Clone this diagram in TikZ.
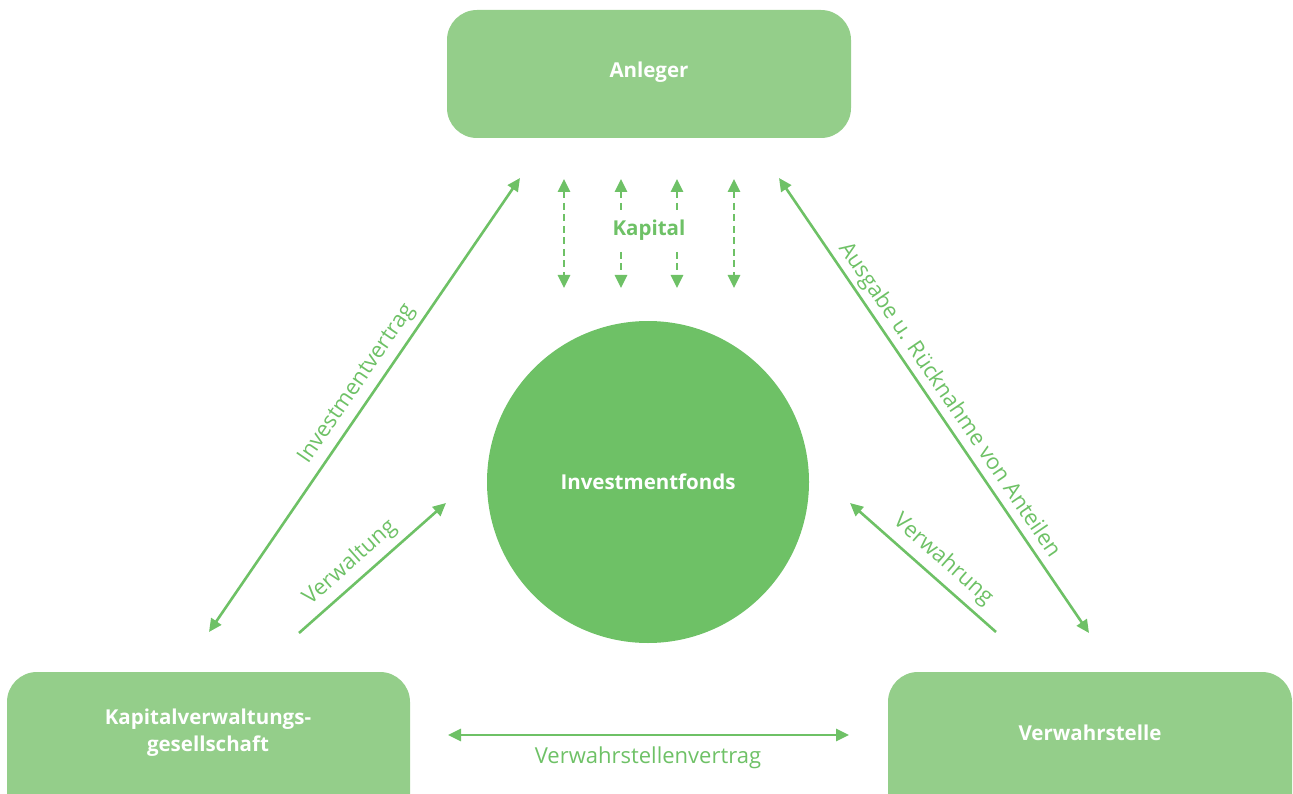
\documentclass[tikz,border=0pt]{standalone}
\usepackage{fontspec}
\setmainfont{Open Sans}
\usetikzlibrary{arrows.meta}
\definecolor{boxg}{HTML}{94CE8A}
\definecolor{circg}{HTML}{6EC166}
\definecolor{lineg}{HTML}{6EC166}
\tikzset{
  boldtxt/.style={text=white, font=\bfseries\fontsize{20.5}{27}\selectfont, align=center},
  conn/.style={draw=lineg, line width=2.6pt},
  tip/.style={-{Triangle[length=13pt,width=12pt]}},
  tips/.style={{Triangle[length=13pt,width=12pt]}-{Triangle[length=13pt,width=12pt]}},
  dashconn/.style={conn, line width=2.8pt, dash pattern=on 7pt off 4.5pt},
  lbl/.style={text=lineg, font=\fontsize{22}{26}\selectfont, inner sep=0pt},
}
\begin{document}
\begin{tikzpicture}[x=1pt,y=-1pt]
\useasboundingbox (0,0) rectangle (1293,794);
% boxes
\path[fill=boxg, rounded corners=30pt] (447,10) rectangle (851,138);
\node[boldtxt] (anleger) at (649,72) {Anleger};
\path[fill=boxg, rounded corners=30pt] (7,672) rectangle (410,830);
\node[boldtxt] (kvg) at (208,733) {Kapitalverwaltungs-\\gesellschaft};
\path[fill=boxg, rounded corners=30pt] (888,672) rectangle (1292,830);
\node[boldtxt] (vs) at (1090,733) {Verwahrstelle};
% circle
\node[circle, fill=circg, minimum size=322pt, inner sep=0pt, boldtxt] (fonds) at (648,482) {Investmentfonds};
% coordinates
\coordinate (iv1) at (209,632); \coordinate (iv2) at (520,178);
\coordinate (au1) at (779,178); \coordinate (au2) at (1089,633);
\coordinate (vw1) at (299,633); \coordinate (vw2) at (446,503);
\coordinate (vh1) at (996,632); \coordinate (vh2) at (850,503);
\coordinate (vv1) at (448,735); \coordinate (vv2) at (849,735);
\draw[conn, tips] (iv1) -- (iv2);
\draw[conn, tips] (au1) -- (au2);
\draw[conn, tip] (vw1) -- (vw2);
\draw[conn, tip] (vh1) -- (vh2);
\draw[conn, tips] (vv1) -- (vv2);
% Kapital arrows
\coordinate (k1a) at (564,179); \coordinate (k1b) at (564,288);
\coordinate (k2a) at (621,179); \coordinate (k2b) at (621,288);
\coordinate (k2m) at (621,211); \coordinate (k2n) at (621,252);
\coordinate (k3a) at (677,179); \coordinate (k3b) at (677,288);
\coordinate (k3m) at (677,211); \coordinate (k3n) at (677,252);
\coordinate (k4a) at (734,179); \coordinate (k4b) at (734,288);
\draw[dashconn, tips] (k1a) -- (k1b);
\draw[dashconn, tips] (k4a) -- (k4b);
\draw[dashconn, {Triangle[length=13pt,width=12pt]}-] (k2a) -- (k2m);
\draw[dashconn, -{Triangle[length=13pt,width=12pt]}] (k2n) -- (k2b);
\draw[dashconn, {Triangle[length=13pt,width=12pt]}-] (k3a) -- (k3m);
\draw[dashconn, -{Triangle[length=13pt,width=12pt]}] (k3n) -- (k3b);
\node[text=lineg, font=\bfseries\fontsize{20.5}{24}\selectfont] (kap) at (649,230) {Kapital};
% labels
\node[lbl, rotate=55.6] (l1) at (357,384) {Investmentvertrag};
\node[lbl, rotate=-55.7] (l2) at (949,400) {Ausgabe u. Rücknahme von Anteilen};
\node[lbl, rotate=41.5] (l3) at (350,563) {Verwaltung};
\node[lbl, rotate=-41.5] (l4) at (943,560) {Verwahrung};
\node[lbl] (l5) at (648,758) {Verwahrstellenvertrag};
\end{tikzpicture}
\end{document}
